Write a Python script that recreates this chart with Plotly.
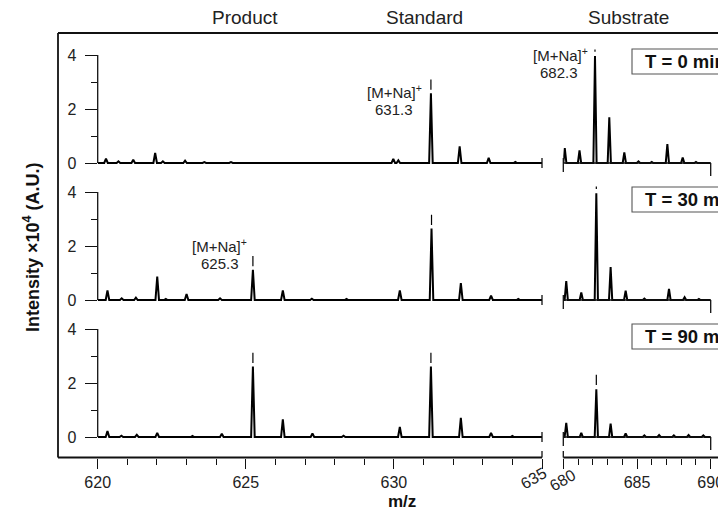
import plotly.graph_objects as go

# ---------------- data (m/z, intensity x10^4) ----------------
panel_labels = ["T = 0 min", "T = 30 min", "T = 90 min"]
header_labels = ["Product", "Standard", "Substrate"]

left_mz_t0 = [620.28, 620.7, 621.2, 621.94, 622.2, 622.95, 623.6, 624.5, 629.98, 630.15, 631.25, 632.22, 633.2, 634.1]
left_int_t0 = [0.16, 0.06, 0.12, 0.37, 0.06, 0.09, 0.03, 0.03, 0.15, 0.10, 2.58, 0.62, 0.19, 0.04]
right_mz_t0 = [680.1, 681.1, 682.15, 683.12, 684.14, 685.1, 686.0, 687.06, 688.1, 689.0]
right_int_t0 = [0.55, 0.47, 3.96, 1.69, 0.39, 0.06, 0.04, 0.70, 0.20, 0.04]

left_mz_t30 = [620.33, 620.81, 621.29, 622.01, 622.3, 623.0, 624.13, 625.24, 626.25, 627.23, 628.4, 630.2, 631.27, 632.26, 633.28, 634.2]
left_int_t30 = [0.35, 0.06, 0.09, 0.87, 0.04, 0.22, 0.06, 1.12, 0.35, 0.05, 0.04, 0.35, 2.65, 0.63, 0.16, 0.04]
right_mz_t30 = [680.2, 681.22, 682.24, 683.21, 684.23, 685.5, 687.17, 688.23, 689.2]
right_int_t30 = [0.70, 0.28, 3.95, 1.22, 0.35, 0.05, 0.41, 0.10, 0.04]

left_mz_t90 = [620.33, 620.8, 621.32, 622.01, 623.2, 624.19, 625.24, 626.25, 627.25, 628.3, 630.2, 631.25, 632.26, 633.28, 634.0]
left_int_t90 = [0.22, 0.05, 0.08, 0.15, 0.04, 0.12, 2.61, 0.65, 0.13, 0.05, 0.37, 2.61, 0.71, 0.15, 0.04]
right_mz_t90 = [680.2, 681.22, 682.24, 683.21, 684.23, 685.5, 686.5, 687.5, 688.5, 689.5]
right_int_t90 = [0.52, 0.15, 1.77, 0.50, 0.13, 0.06, 0.07, 0.06, 0.07, 0.06]

# peaks flagged with a "|" marker
marker_left = [[631.25], [625.24, 631.27], [625.24, 631.25]]
marker_right = [[682.15], [682.24], [682.24]]

left_range = [620, 635]
right_range = [680, 690]
left_tickvals = [620, 625, 630, 635]
left_ticktext = ["620", "625", "630", " "]
right_tickvals = [680, 685, 690]
right_ticktext = [" ", "685", "690"]
y_tickvals = [0, 2, 4]
y_minor = [1, 3]

# ---------------- layout geometry (window pixels) ----------------
# The page body has an 8 px margin, so the figure is sized to fill the
# rest of the 726x512 window and window pixels are converted accordingly.
OFF = 8
W, H = 726 - OFF, 512 - OFF
FONT = "Liberation Sans, Arial, Helvetica, sans-serif"
LX0, LX1 = 97.7, 542.0     # 620 .. 635
RX0, RX1 = 563.3, 710.7    # 680 .. 690
BASE = [163, 300, 437]     # y pixel of intensity 0 in each panel
PXU = 27.0                 # pixels per intensity unit
YR = [-0.5, 4.2]
FRAME_L, FRAME_T, FRAME_B = 58, 33, 457.5


def fx(px):
    return (px - OFF) / W


def fy(py):
    return 1 - (py - OFF) / H


def spectrum(start, end, mz, inten, hw):
    xs, ys = [start], [0]
    for m, h in sorted(zip(mz, inten)):
        xs += [m - hw, m, m + hw]
        ys += [0, h, 0]
    xs.append(end)
    ys.append(0)
    return xs, ys


def markers(mz_list, mz, inten, gap=0.13, length=0.38):
    xs, ys = [], []
    for m in mz_list:
        h = inten[min(range(len(mz)), key=lambda i: abs(mz[i] - m))]
        xs += [m, m, None]
        ys += [h + gap, h + gap + length, None]
    return xs, ys


data_left = [(left_mz_t0, left_int_t0), (left_mz_t30, left_int_t30), (left_mz_t90, left_int_t90)]
data_right = [(right_mz_t0, right_int_t0), (right_mz_t30, right_int_t30), (right_mz_t90, right_int_t90)]

fig = go.Figure()
layout = dict(
    template="none",
    width=W, height=H, margin=dict(l=0, r=0, t=0, b=0, pad=0, autoexpand=False),
    paper_bgcolor="white", plot_bgcolor="rgba(0,0,0,0)",
    showlegend=False, font=dict(family=FONT, color="#111", size=16),
)

line_style = dict(color="black", width=2)
for r in range(3):
    il = 2 * r + 1
    ir = 2 * r + 2
    xl = "x" if il == 1 else f"x{il}"
    yl = "y" if il == 1 else f"y{il}"
    xr, yr = f"x{ir}", f"y{ir}"
    # left spectrum
    sx, sy = spectrum(left_range[0], left_range[1], *data_left[r], hw=0.06)
    fig.add_trace(go.Scatter(x=sx, y=sy, mode="lines", line=line_style, xaxis=xl, yaxis=yl, hoverinfo="skip"))
    mx, my = markers(marker_left[r], *data_left[r])
    fig.add_trace(go.Scatter(x=mx, y=my, mode="lines", line=dict(color="black", width=1.2), xaxis=xl, yaxis=yl, hoverinfo="skip"))
    # right spectrum
    sx, sy = spectrum(right_range[0], right_range[1], *data_right[r], hw=0.11)
    fig.add_trace(go.Scatter(x=sx, y=sy, mode="lines", line=line_style, xaxis=xr, yaxis=yr, hoverinfo="skip"))
    mx, my = markers(marker_right[r], *data_right[r], gap=0.16)
    fig.add_trace(go.Scatter(x=mx, y=my, mode="lines", line=dict(color="black", width=1.2), xaxis=xr, yaxis=yr, hoverinfo="skip"))

    b = BASE[r]
    ydom = [fy(b - YR[0] * PXU), fy(b - YR[1] * PXU)]
    bottom = (r == 2)
    xcommon = dict(showgrid=False, zeroline=False, showline=False, automargin=False)
    kl = "xaxis" if il == 1 else f"xaxis{il}"
    kyl = "yaxis" if il == 1 else f"yaxis{il}"
    for key, dom, rng, tv, tt, yk in [
        (kl, [fx(LX0), fx(LX1)], left_range, left_tickvals, left_ticktext, yl),
        (f"xaxis{ir}", [fx(RX0), fx(RX1)], right_range, right_tickvals, right_ticktext, yr),
    ]:
        ax = dict(domain=dom, range=rng, **xcommon)
        if bottom:
            ax.update(anchor="free", position=fy(FRAME_B), ticks="outside", ticklen=10, tickwidth=1.3,
                      tickcolor="#111", tickmode="array", tickvals=tv, ticktext=tt,
                      tickfont=dict(size=16, family=FONT, color="#222"),
                      minor=dict(ticks="outside", dtick=1, tick0=0, ticklen=6, tickwidth=1.3, tickcolor="#111"))
        else:
            ax.update(anchor=yk, visible=False)
        layout[key] = ax
    layout[kyl] = dict(domain=ydom, range=YR, anchor=xl, showgrid=False, zeroline=False, showline=False,
                       automargin=False,
                       ticks="outside", ticklen=12, tickwidth=1.3, tickcolor="#111",
                       tickmode="array", tickvals=y_tickvals, ticklabelstandoff=5,
                       tickfont=dict(size=16, family=FONT, color="#222"),
                       minor=dict(ticks="outside", tickvals=y_minor, ticklen=6, tickwidth=1.3, tickcolor="#111"))
    layout[f"yaxis{ir}"] = dict(domain=ydom, range=YR, anchor=xr, visible=False, automargin=False)

# ---------------- shapes (frame, axis fragments, boxes) ----------------
shapes = []


def seg(x0, y0, x1, y1, w=1.4, color="#111"):
    shapes.append(dict(type="line", xref="paper", yref="paper", x0=fx(x0), y0=fy(y0), x1=fx(x1), y1=fy(y1),
                       line=dict(color=color, width=w)))


seg(FRAME_L, FRAME_T, FRAME_L, FRAME_B, 1.8)
seg(FRAME_L, FRAME_T, 780, FRAME_T, 1.8)
seg(FRAME_L, FRAME_B, LX1, FRAME_B, 1.8)
seg(RX0, FRAME_B, 780, FRAME_B, 1.8)
seg(LX1, FRAME_B - 6.5, LX1, FRAME_B, 1.3)
seg(RX0, FRAME_B - 6.5, RX0, FRAME_B, 1.3)
for b in BASE:
    seg(LX0, b, LX0, b - 4 * PXU, 1.3)
    seg(LX1, b - 5, LX1, b + 5, 1.3)
    seg(RX0, b, RX1, b, 1.3)
    seg(RX0, b - 5, RX0, b + 9, 1.3)
    seg(RX1, b, RX1, b + 13, 1.3)

box_tops = [49, 187, 324]
for t in box_tops:
    shapes.append(dict(type="rect", xref="paper", yref="paper", x0=fx(632), x1=fx(790), y0=fy(t + 25), y1=fy(t),
                       line=dict(color="#555", width=1.1), fillcolor="white"))
layout["shapes"] = shapes

# ---------------- annotations ----------------
ann = []


def text(x, y, s, size=16, bold=False, xanchor="center", angle=0, color="#222"):
    ann.append(dict(x=fx(x), y=fy(y), xref="paper", yref="paper", text=f"<b>{s}</b>" if bold else s,
                    showarrow=False, xanchor=xanchor, yanchor="middle", textangle=angle,
                    font=dict(family=FONT, size=size, color=color)))


text(245, 17, header_labels[0], 19)
text(424, 17, header_labels[1], 19)
text(628, 17, header_labels[2], 19)
for t, lab in zip(box_tops, panel_labels):
    text(643, t + 12.5, lab, 18.5, bold=True, xanchor="left", color="#111")

text(394, 92, "[M+Na]<sup>+</sup>", 15)
text(394, 110, "631.3", 15)
text(560, 54, "[M+Na]<sup>+</sup>", 15)
text(559, 72, "682.3", 15)
text(219, 245, "[M+Na]<sup>+</sup>", 15)
text(220, 263, "625.3", 15)

text(533, 478, "635", 16, angle=-30)
text(562, 480, "680", 16, angle=-30)
text(402, 501, "m/z", 17, bold=True, color="#111")
text(31, 247, "Intensity ×10<sup>4</sup> (A.U.)", 18, bold=True, angle=-90, color="#111")
layout["annotations"] = ann

fig.update_layout(**layout)
fig.write_html("out.html")
